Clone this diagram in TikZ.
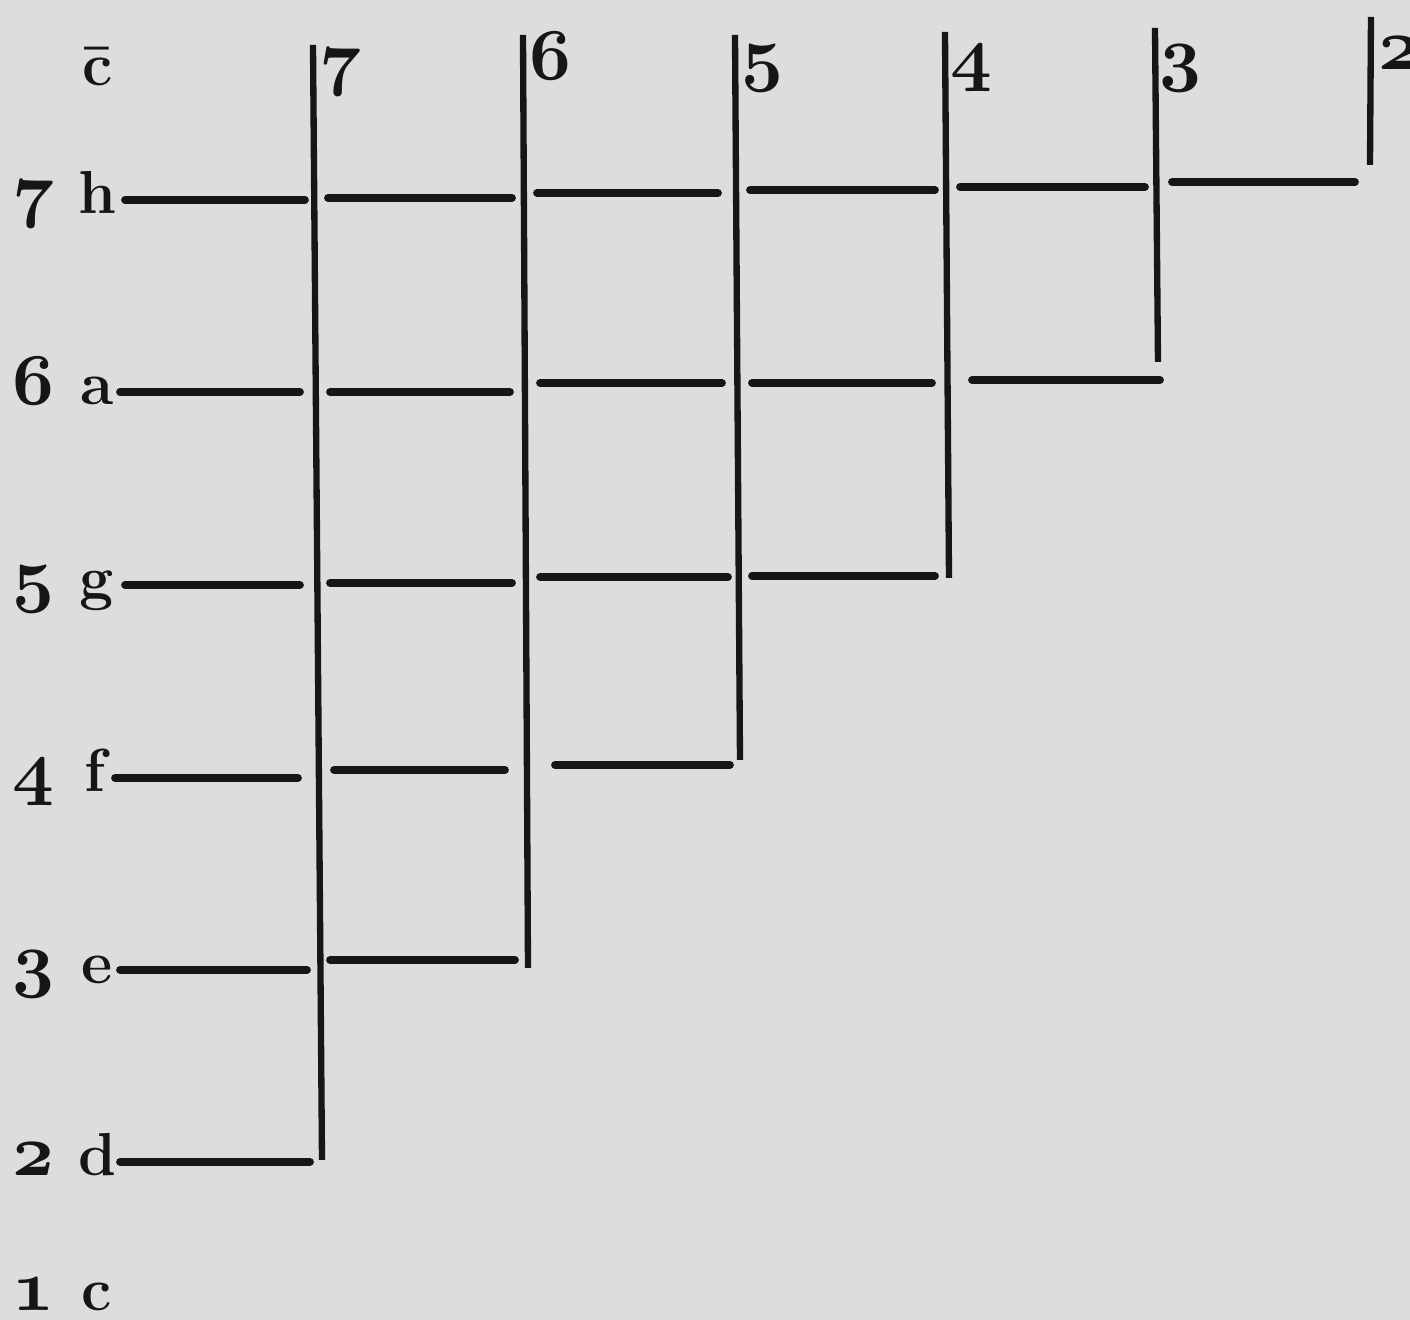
\documentclass[tikz,border=0pt]{standalone}
\usepackage{tikz}
\usetikzlibrary{positioning}
\definecolor{paper}{RGB}{221,221,221}
\definecolor{ink}{RGB}{22,22,22}
\newcommand{\onum}[1]{{\usefont{OML}{cmm}{b}{it}#1}}

\begin{document}
\begin{tikzpicture}[
  stem/.style={draw=ink, line width=1.8pt},
  rung/.style={draw=ink, line width=2.2pt, line cap=round},
  lab/.style={font=\fontsize{17.28}{20}\selectfont, text=ink, inner sep=0pt, anchor=base},
  numlab/.style={lab, font=\fontsize{20}{24}\selectfont}
]
\useasboundingbox (0,0) rectangle (14.10,13.20);
\fill[paper] (0,0) rectangle (14.10,13.20);

% Degrees and note names down the left
\node[lab] (note8) at (0.98, 12.34) {\textbf{\=c}};
\foreach \n/\t/\y in {7/h/11.06, 6/a/9.15, 5/g/7.21, 4/f/5.28, 3/e/3.36, 2/d/1.44, 1/c/0.09} {
  \node[numlab] (deg\n) at (0.33, \y) {\onum{\n}};
  \node[lab] (note\n) at (0.97, \y) {\textbf{\t}};
}

% Vertical strokes with their numbers
\foreach \n/\xa/\ya/\xb/\yb/\xl/\yl in {7/3.13/12.75/3.22/1.60/3.40/12.38, 6/5.23/12.85/5.28/3.52/5.50/12.40,
    5/7.35/12.85/7.40/5.60/7.62/12.42, 4/9.45/12.88/9.49/7.42/9.71/12.42,
    3/11.55/12.92/11.58/9.58/11.80/12.42, 2/13.71/13.03/13.70/11.55/13.99/12.50} {
  \coordinate (top\n) at (\xa,\ya);
  \coordinate (bot\n) at (\xb,\yb);
  \draw[stem] (top\n) -- (bot\n);
  \node[numlab] (num\n) at (\xl, \yl) {\onum{\n}};
}

% Horizontal strokes, row by row
\foreach \xa/\xb/\y in {
    1.25/3.05/11.20, 3.28/5.12/11.22, 5.37/7.18/11.27, 7.50/9.35/11.30, 9.60/11.45/11.33, 11.72/13.55/11.38,
    1.20/3.00/9.28, 3.30/5.10/9.28, 5.40/7.22/9.37, 7.52/9.32/9.37, 9.72/11.60/9.40,
    1.25/3.00/7.35, 3.30/5.12/7.37, 5.40/7.28/7.43, 7.52/9.35/7.44,
    1.15/2.98/5.42, 3.34/5.05/5.50, 5.55/7.30/5.55,
    1.20/3.07/3.50, 3.30/5.15/3.60,
    1.20/3.10/1.58} {
  \draw[rung] (\xa,\y) -- (\xb,\y);
}

\end{tikzpicture}
\end{document}
